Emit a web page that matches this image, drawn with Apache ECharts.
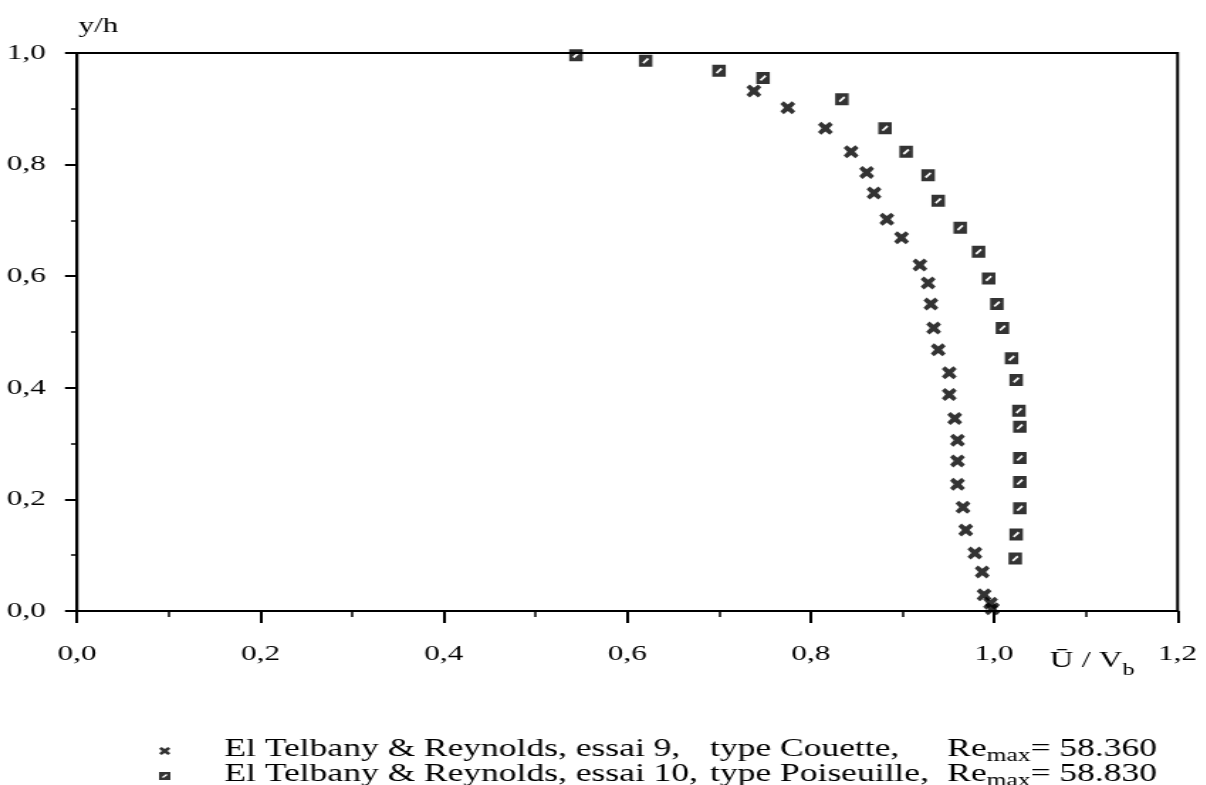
<!DOCTYPE html>
<html>
<head>
<meta charset="utf-8">
<script src="https://cdn.jsdelivr.net/npm/echarts@6/dist/echarts.min.js"></script>
<style>
html,body{margin:0;padding:0;background:#fff;overflow:hidden;}
#wrap{width:1206px;height:785px;overflow:hidden;position:relative;}
#chart{position:absolute;left:0;top:0;height:785px;transform-origin:0 0;}
</style>
</head>
<body>
<div id="wrap"><div id="chart"></div></div>
<script>
// ---- data ----
const seriesNames = ['Couette', 'Poiseuille'];
const couetteX = [0.738,0.775,0.816,0.844,0.861,0.869,0.883,0.899,0.919,0.928,0.931,0.934,0.939,0.951,0.951,0.957,0.960,0.960,0.960,0.966,0.969,0.979,0.987,0.989,0.996,0.998];
const couetteY = [0.932,0.902,0.865,0.823,0.786,0.749,0.702,0.669,0.620,0.588,0.550,0.507,0.468,0.427,0.388,0.345,0.306,0.269,0.227,0.186,0.145,0.104,0.070,0.029,0.014,0.004];
const poiseuilleX = [0.544,0.620,0.700,0.748,0.834,0.881,0.904,0.928,0.939,0.963,0.983,0.994,1.003,1.009,1.019,1.024,1.027,1.028,1.028,1.028,1.028,1.024,1.023];
const poiseuilleY = [0.996,0.986,0.968,0.955,0.917,0.865,0.823,0.781,0.735,0.687,0.644,0.596,0.550,0.507,0.453,0.414,0.359,0.330,0.274,0.231,0.184,0.137,0.094];
const xTickLabels = ['0,0','0,2','0,4','0,6','0,8','1,0','1,2'];
const yTickLabels = ['0,0','0,2','0,4','0,6','0,8','1,0'];
const legendParts = [
  ['El Telbany & Reynolds, essai 9,', 'type Couette,', '58.360'],
  ['El Telbany & Reynolds, essai 10,', 'type Poiseuille,', '58.830']
];

// ---- layout (the reference is horizontally stretched) ----
const S = 1.42;
const W = 1206 / S;
const el = document.getElementById('chart');
el.style.width = W + 'px';
el.style.transform = 'scaleX(' + S + ')';

const FONT = '"Liberation Serif", "Times New Roman", serif';
const crossPath = 'path://M0,2.6 L2.6,0 L6,3 L9.4,0 L12,2.6 L9,6 L12,9.4 L9.4,12 L6,9 L2.6,12 L0,9.4 L3,6 Z';
const squarePath = 'path://M0,0 L12,0 L12,12 L0,12 Z M3,7.6 L4.4,9 L9,4.4 L7.6,3 Z';

function pairs(xs, ys) { return xs.map((x, i) => [x, ys[i]]); }

const txt = (size, extra) => Object.assign({fontFamily: FONT, fontSize: size, color: '#000'}, extra || {});

const chart = echarts.init(el, null, {renderer: 'canvas'});
chart.setOption({
  animation: false,
  backgroundColor: '#fff',
  textStyle: {fontFamily: FONT, color: '#000'},
  grid: {left: 77 / S, right: 28 / S, top: 53, bottom: 174, show: true, borderColor: '#000', borderWidth: 2, backgroundColor: 'transparent'},
  xAxis: {
    type: 'value', min: 0, max: 1.2, interval: 0.2,
    name: '{n|Ū / V}{sub|b}', nameLocation: 'end', nameGap: -90,
    nameTextStyle: {
      align: 'left', verticalAlign: 'top', padding: [38, 0, 0, 0],
      rich: {
        n: txt(23, {lineHeight: 30, verticalAlign: 'top'}),
        sub: txt(17, {lineHeight: 30, verticalAlign: 'bottom'})
      }
    },
    axisLine: {show: true, lineStyle: {color: '#000', width: 2}},
    axisTick: {show: true, inside: false, length: 12, lineStyle: {color: '#000', width: 2}},
    minorTick: {show: true, splitNumber: 2, length: 6, lineStyle: {color: '#000', width: 1.5}},
    splitLine: {show: false},
    axisLabel: {margin: 32, fontFamily: FONT, fontSize: 22, color: '#000',
      formatter: (v) => xTickLabels[Math.round(v / 0.2)]}
  },
  yAxis: {
    type: 'value', min: 0, max: 1, interval: 0.2,
    name: 'y/h', nameLocation: 'end', nameGap: 16,
    nameTextStyle: {align: 'left', verticalAlign: 'bottom', fontFamily: FONT, fontSize: 22, color: '#000', padding: [0, 0, 0, 1]},
    axisLine: {show: true, lineStyle: {color: '#000', width: 2}},
    axisTick: {show: true, inside: false, length: 12 / S, lineStyle: {color: '#000', width: 2}},
    minorTick: {show: true, splitNumber: 2, length: 6 / S, lineStyle: {color: '#000', width: 1.5}},
    splitLine: {show: false},
    axisLabel: {margin: 22, fontFamily: FONT, fontSize: 22, color: '#000',
      formatter: (v) => yTickLabels[Math.round(v / 0.2)]}
  },
  legend: {
    orient: 'vertical', left: 107, top: 732, height: 120, itemGap: -3,
    itemWidth: 8, itemHeight: 10,
    data: seriesNames,
    formatter: function (name) {
      const p = legendParts[seriesNames.indexOf(name)];
      return '{a|' + p[0] + '}{t|' + p[1] + '}{re|Re}{sub|max}{v|= ' + p[2] + '}';
    },
    textStyle: {
      padding: [0, 0, 0, 33],
      rich: {
        a: txt(25, {width: 342, lineHeight: 28, verticalAlign: 'top'}),
        t: txt(25, {width: 167, lineHeight: 28, verticalAlign: 'top'}),
        re: txt(25, {lineHeight: 28, verticalAlign: 'top'}),
        sub: txt(18, {lineHeight: 28, verticalAlign: 'bottom'}),
        v: txt(25, {lineHeight: 28, verticalAlign: 'top'})
      }
    }
  },
  series: [
    {name: seriesNames[0], type: 'scatter', data: pairs(couetteX, couetteY), symbol: crossPath, symbolSize: [10.5, 13], itemStyle: {color: '#000'}},
    {name: seriesNames[1], type: 'scatter', data: pairs(poiseuilleX, poiseuilleY), symbol: squarePath, symbolSize: [9.5, 12], itemStyle: {color: '#000'}}
  ]
});
</script>
</body>
</html>
